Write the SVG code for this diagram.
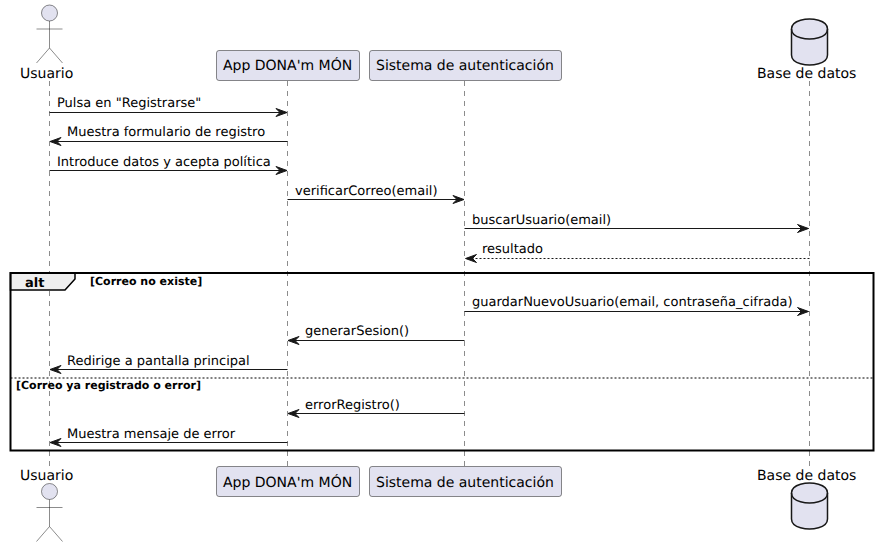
<svg xmlns="http://www.w3.org/2000/svg" width="878" height="547" viewBox="0 0 878 547">
<style>
text{font-family:"DejaVu Sans",sans-serif;fill:#000;text-rendering:geometricPrecision}
.p{font-size:14px}
.m{font-size:13px}
.g{font-size:11px;font-weight:bold}
.life{stroke:#181818;stroke-width:.5;stroke-dasharray:5,5;fill:none}
.box{fill:#E2E2F0;stroke:#181818;stroke-width:.5}
.act{fill:#E2E2F0;stroke:#181818;stroke-width:.5}
.actl{fill:none;stroke:#181818;stroke-width:.5}
.db{fill:#E2E2F0;stroke:#181818;stroke-width:1.5}
.dbl{fill:none;stroke:#181818;stroke-width:1.5}
.msg{stroke:#181818;stroke-width:1;fill:none}
.dash{stroke-dasharray:2,2}
.ah{fill:#181818;stroke:#181818;stroke-width:1}
.frame{fill:none;stroke:#000;stroke-width:2}
</style>
<defs>
<g id="actor"><circle class="act" cx="0" cy="0" r="8"/><path class="actl" d="M0,8V35M-13,16H13M0,35L-13,50M0,35L13,50"/></g>
<g id="cyl"><path class="db" d="M-18,10C-18,0 0,0 0,0C0,0 18,0 18,10V36C18,46 0,46 0,46C0,46 -18,46 -18,36Z"/><path class="dbl" d="M-18,10C-18,20 0,20 0,20C0,20 18,20 18,10"/></g>
<path id="r" class="ah" d="M0,0L-11,-4L-7,0L-11,4Z"/>
<path id="l" class="ah" d="M0,0L11,-4L7,0L11,4Z"/>
</defs>
<g id="lifelines">
<path class="life" d="M49.5,81V466"/>
<path class="life" d="M287.5,81V466"/>
<path class="life" d="M464.5,81V466"/>
<path class="life" d="M809.5,81V466"/>
</g>
<g id="alt-frame">
<path d="M10.5,273H75V279L65,290H10.5Z" fill="#EEEEEE" stroke="#000" stroke-width="1.5"/>
<rect class="frame" x="10.5" y="273" width="863" height="177.5"/>
<path d="M10.5,378H873.5" fill="none" stroke="#000" stroke-width="1" stroke-dasharray="2,2"/>
<text x="25" y="287" font-size="13" font-weight="bold">alt</text>
<text class="g" x="90" y="285">[Correo no existe]</text>
<text class="g" x="16" y="389">[Correo ya registrado o error]</text>
</g>
<g id="connectors">
<path class="msg" d="M49.500,112.500H287"/><use href="#r" x="287" y="112.500"/>
<path class="msg" d="M287.500,141.500H50"/><use href="#l" x="50" y="141.500"/>
<path class="msg" d="M49.500,170.500H287"/><use href="#r" x="287" y="170.500"/>
<path class="msg" d="M287.500,199.500H464"/><use href="#r" x="464" y="199.500"/>
<path class="msg" d="M464.500,228.500H808.500"/><use href="#r" x="808.500" y="228.500"/>
<path class="msg dash" d="M809.500,258.500H465.500"/><use href="#l" x="465.500" y="258.500"/>
<path class="msg" d="M464.500,311.500H808.500"/><use href="#r" x="808.500" y="311.500"/>
<path class="msg" d="M464.500,340.500H288"/><use href="#l" x="288" y="340.500"/>
<path class="msg" d="M287.500,369.500H50"/><use href="#l" x="50" y="369.500"/>
<path class="msg" d="M464.500,413.500H288"/><use href="#l" x="288" y="413.500"/>
<path class="msg" d="M287.500,442.500H50"/><use href="#l" x="50" y="442.500"/>
</g>
<g id="labels">
<text class="m" x="57" y="107">Pulsa en "Registrarse"</text>
<text class="m" x="67" y="136">Muestra formulario de registro</text>
<text class="m" x="57" y="166">Introduce datos y acepta política</text>
<text class="m" x="295" y="195">verificarCorreo(email)</text>
<text class="m" x="472" y="224">buscarUsuario(email)</text>
<text class="m" x="482" y="253">resultado</text>
<text class="m" x="472" y="306">guardarNuevoUsuario(email, contraseña_cifrada)</text>
<text class="m" x="305" y="335">generarSesion()</text>
<text class="m" x="67" y="365">Redirige a pantalla principal</text>
<text class="m" x="305" y="409">errorRegistro()</text>
<text class="m" x="67" y="438">Muestra mensaje de error</text>
</g>
<g id="usuario-top"><use href="#actor" x="49.500" y="13"/><text class="p" x="20" y="78">Usuario</text></g>
<g id="usuario-bottom"><text class="p" x="20" y="480">Usuario</text><use href="#actor" x="49.500" y="491.500"/></g>
<g id="app-top"><rect class="box" x="216.500" y="50.500" width="143" height="30" rx="2.500"/><text class="p" x="223" y="70">App DONA'm MÓN</text></g>
<g id="app-bottom"><rect class="box" x="216.500" y="466.500" width="143" height="30" rx="2.500"/><text class="p" x="223" y="487">App DONA'm MÓN</text></g>
<g id="sistema-top"><rect class="box" x="369.500" y="50.500" width="192" height="30" rx="2.500"/><text class="p" x="376" y="70">Sistema de autenticación</text></g>
<g id="sistema-bottom"><rect class="box" x="369.500" y="466.500" width="192" height="30" rx="2.500"/><text class="p" x="376" y="487">Sistema de autenticación</text></g>
<g id="base-top"><use href="#cyl" x="809.500" y="19"/><text class="p" x="757" y="78">Base de datos</text></g>
<g id="base-bottom"><text class="p" x="757" y="480">Base de datos</text><use href="#cyl" x="809.500" y="483"/></g>
</svg>
